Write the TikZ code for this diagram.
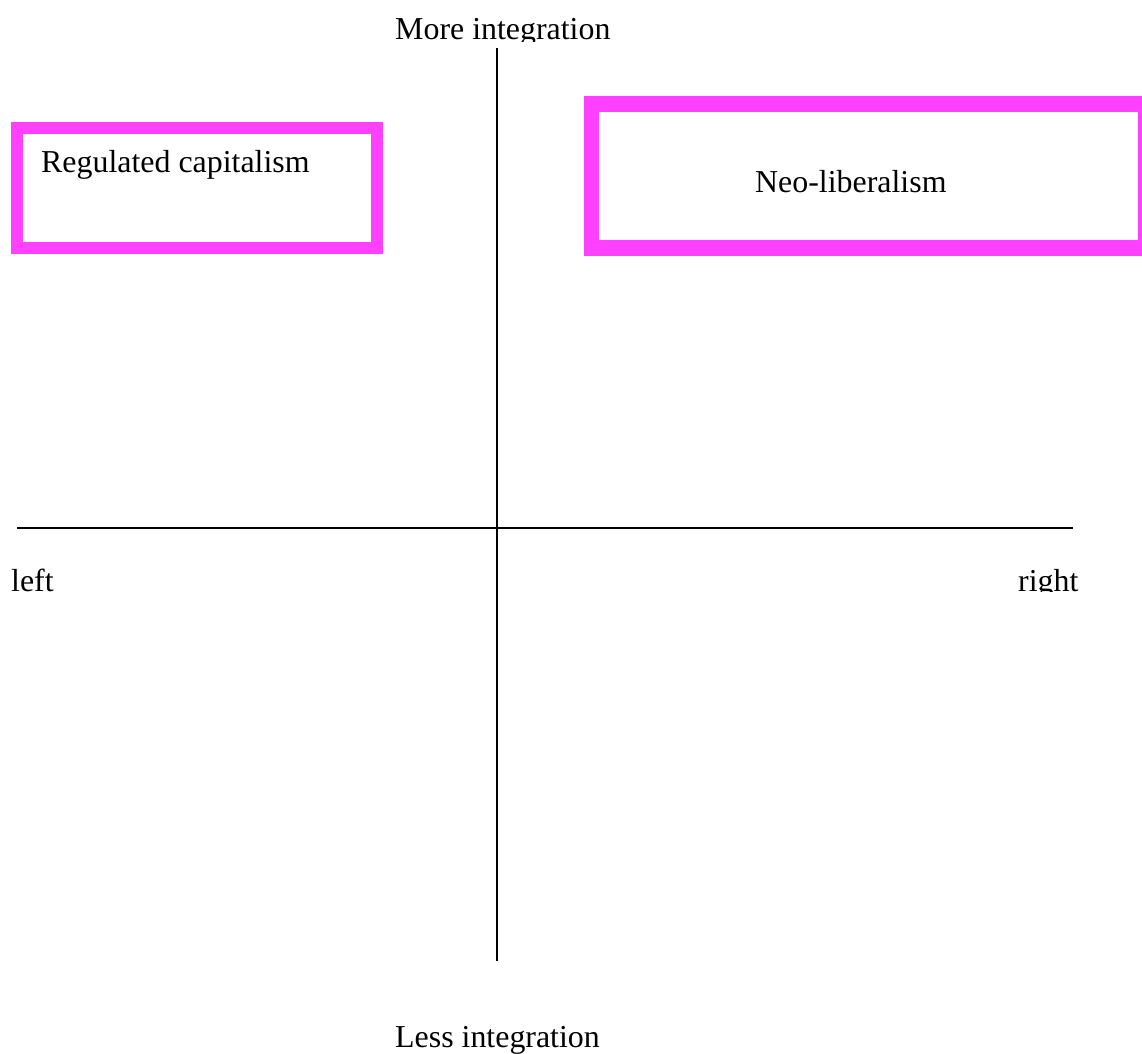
\documentclass[tikz,border=0pt]{standalone}
\usepackage{fontspec}
\setmainfont{Liberation Serif}
\definecolor{boxpink}{HTML}{FF40FF}
\begin{document}
\begin{tikzpicture}[x=1pt,y=-1pt,
  lbl/.style={anchor=base west,inner sep=0pt,font=\fontsize{31.9}{38}\selectfont},
  frame/.style={draw=boxpink,inner sep=0pt,fill=white},
  axis/.style={draw=black,line width=2pt}]
\useasboundingbox (0,0) rectangle (1142,1053);
% axes
\coordinate (vtop) at (497,48);
\coordinate (vbot) at (497,961);
\coordinate (hl) at (17,527.5);
\coordinate (hr) at (1073,527.5);
\draw[axis] (vtop) -- (vbot);
\draw[axis] (hl) -- (hr);
% boxes
\node[frame,line width=12pt,minimum width=360pt,minimum height=120pt] (regbox) at (197,188) {};
\node[lbl] (regtxt) at (41,172.5) {Regulated capitalism};
\begin{scope}
\clip (0,0) rectangle (1142,1053);
\node[frame,line width=15.5pt,minimum width=554pt,minimum height=144pt] (neobox) at (868.5,176) {};
\end{scope}
\node[lbl] (neotxt) at (755,192) {Neo-liberalism};
% labels
\begin{scope}
\clip (0,0) rectangle (1142,41);
\node[lbl] (more) at (395,39.5) {More integration};
\end{scope}
\node[lbl] (left) at (11,591) {left};
\begin{scope}
\clip (0,560) rectangle (1142,591);
\node[lbl] (right) at (1018,591) {right};
\end{scope}
\node[lbl] (less) at (395,1047) {Less integration};
\end{tikzpicture}
\end{document}
